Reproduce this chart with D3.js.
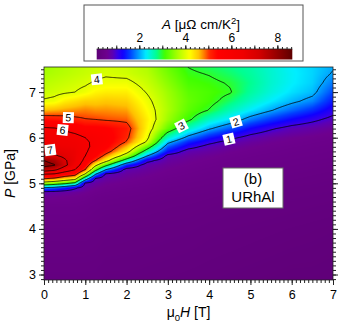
<!DOCTYPE html>
<html><head><meta charset="utf-8">
<script src="https://cdn.jsdelivr.net/npm/d3@7"></script>
<style>
body{margin:0;background:#fff;}
svg{display:block;font-family:"Liberation Sans",Arial,Helvetica,sans-serif;}
</style>
</head><body>
<svg id="chart" width="342" height="327"></svg>
<script>
// ---------- DATA ----------
// Field grid: magnetic field H (T) columns, pressure P (GPa) rows
const fieldH = [0,0.25,0.5,0.75,1,1.25,1.5,2,2.5,3,3.5,4,4.5,5,5.5,6,6.5,7];
const fieldP = [2.9,4.0,4.5,4.7,4.8,4.9,5.0,5.1,5.2,5.3,5.4,5.5,5.6,5.7,5.8,5.9,6.0,6.2,6.4,6.6,6.8,7.0,7.2,7.4,7.6];
// A (μΩ cm/K²) along fieldP, one array per H column
const aH0_00 = [0.3,0.4,0.5,0.65,0.8,1.9,3.6,5.0,6.0,7.5,8.3,8.0,7.0,6.8,6.6,6.5,6.4,6.1,5.3,4.6,4.05,3.85,3.75,3.65,3.6];
const aH0_25 = [0.3,0.4,0.5,0.62,0.78,1.8,3.4,4.85,5.9,7.2,8.05,7.7,7.1,6.8,6.6,6.5,6.4,6.05,5.25,4.65,4.1,3.9,3.8,3.7,3.65];
const aH0_50 = [0.3,0.4,0.5,0.6,0.72,1.5,3.15,4.5,5.5,6.5,7.2,7.1,6.85,6.7,6.55,6.45,6.35,5.9,5.2,4.7,4.3,3.95,3.85,3.75,3.7];
const aH0_75 = [0.3,0.4,0.5,0.58,0.68,1.1,2.8,4.25,5.25,6.0,6.45,6.6,6.6,6.6,6.5,6.4,6.25,5.7,5.1,4.75,4.4,4.0,3.9,3.8,3.75];
const aH1_00 = [0.3,0.4,0.48,0.55,0.62,0.72,0.9,2.4,3.9,5.0,5.5,5.8,6.0,6.1,6.15,6.1,6.0,5.5,5.02,4.8,4.5,4.1,3.95,3.85,3.8];
const aH1_25 = [0.3,0.38,0.45,0.5,0.55,0.62,0.72,0.92,2.0,3.25,4.15,5.0,5.45,5.65,5.8,5.85,5.8,5.5,5.0,4.75,4.5,4.25,4.05,3.9,3.85];
const aH1_50 = [0.28,0.36,0.43,0.48,0.52,0.57,0.63,0.72,0.9,2.0,3.2,4.25,4.8,5.25,5.5,5.6,5.6,5.45,4.95,4.75,4.55,4.3,4.1,3.95,3.9];
const aH2_00 = [0.28,0.35,0.42,0.46,0.49,0.53,0.58,0.63,0.7,0.82,1.5,2.65,3.65,4.25,4.6,4.95,5.1,5.2,4.9,4.7,4.5,4.3,4.1,3.9,3.85];
const aH2_50 = [0.27,0.34,0.4,0.44,0.47,0.5,0.54,0.58,0.63,0.69,0.78,1.15,2.0,2.7,3.3,3.9,4.1,4.25,4.3,4.2,4.1,3.97,3.85,3.75,3.68];
const aH3_00 = [0.26,0.33,0.38,0.41,0.43,0.46,0.49,0.52,0.56,0.6,0.65,0.72,0.85,1.35,1.7,2.1,2.55,3.3,3.6,3.68,3.65,3.6,3.5,3.4,3.3];
const aH3_50 = [0.25,0.32,0.37,0.4,0.42,0.44,0.46,0.49,0.52,0.55,0.59,0.63,0.7,0.82,1.15,1.45,1.85,2.55,3.08,3.25,3.3,3.25,3.15,3.06,2.97];
const aH4_00 = [0.24,0.3,0.35,0.38,0.4,0.42,0.44,0.46,0.48,0.51,0.54,0.58,0.63,0.72,0.85,1.1,1.4,2.05,2.55,2.98,3.12,3.15,3.08,2.98,2.85];
const aH4_50 = [0.23,0.29,0.33,0.36,0.38,0.4,0.42,0.44,0.46,0.48,0.5,0.53,0.57,0.62,0.7,0.85,1.1,1.7,2.25,2.6,2.85,3.03,2.97,2.85,2.75];
const aH5_00 = [0.22,0.28,0.32,0.34,0.36,0.38,0.4,0.42,0.44,0.46,0.48,0.5,0.53,0.57,0.62,0.7,0.85,1.3,1.85,2.3,2.55,2.7,2.75,2.7,2.65];
const aH5_50 = [0.21,0.27,0.31,0.33,0.34,0.36,0.38,0.4,0.42,0.44,0.46,0.48,0.5,0.53,0.57,0.62,0.7,1.05,1.55,2.02,2.3,2.45,2.5,2.5,2.48];
const aH6_00 = [0.2,0.26,0.3,0.32,0.33,0.34,0.36,0.38,0.4,0.42,0.44,0.46,0.48,0.5,0.53,0.57,0.62,0.85,1.3,1.75,2.08,2.25,2.32,2.33,2.3];
const aH6_50 = [0.2,0.25,0.29,0.31,0.32,0.33,0.35,0.36,0.38,0.4,0.42,0.44,0.46,0.48,0.5,0.53,0.57,0.75,1.1,1.5,1.88,2.1,2.18,2.2,2.2];
const aH7_00 = [0.19,0.24,0.28,0.3,0.31,0.32,0.33,0.35,0.36,0.38,0.4,0.42,0.44,0.46,0.48,0.5,0.53,0.65,0.88,1.15,1.4,1.62,1.82,1.97,2.05];

const contourLevels = [1,2,3,4,5,6,7,8];
// contour labels: [text, H, P, rotation]
const contourLabels = [["1",4.48,5.97,-13],["2",4.65,6.35,-17],["3",3.33,6.26,-27],["4",1.28,7.28,-6],["5",0.59,6.44,2],["6",0.45,6.17,6],["7",0.15,5.73,-8]];

const xTicks = [0,1,2,3,4,5,6,7];
const yTicks = [3,4,5,6,7];
const cbTicks = [2,4,6,8];
const cbDomain = [0.15, 8.65];

// colour map (IGOR-like rainbow)
const cmapV = [0,0.3,0.6,0.85,1.05,1.3,1.6,1.95,2.3,2.75,3.1,3.7,4.2,4.6,4.85,5.05,5.4,6.5,7.2,8.0,8.7];
const cmapC = ["#58006c","#640080","#6e008e","#5c00b4","#3800e8","#1000ff","#0040ff","#0098ff","#00eeff","#00ff90","#40ff00","#b0ff00","#ffff00","#ffc000","#ff7000","#ff2800","#ff0000","#f00000","#d40000","#940000","#5a0000"];

// ---------- SETUP ----------
const columns = [aH0_00,aH0_25,aH0_50,aH0_75,aH1_00,aH1_25,aH1_50,aH2_00,aH2_50,aH3_00,aH3_50,aH4_00,aH4_50,aH5_00,aH5_50,aH6_00,aH6_50,aH7_00];
const svg = d3.select("#chart");
const L = 44, R = 333, T = 67, B = 280;
const x = d3.scaleLinear().domain([0,7]).range([L,R]);
const y = d3.scaleLinear().domain([2.88,7.55]).range([B,T]);
const color = d3.scaleLinear().domain(cmapV).range(cmapC).interpolate(d3.interpolateRgb).clamp(true);

function valueAt(h, p){
  h = Math.max(fieldH[0], Math.min(fieldH[fieldH.length-1], h));
  p = Math.max(fieldP[0], Math.min(fieldP[fieldP.length-1], p));
  let i = Math.min(Math.max(d3.bisectRight(fieldH,h)-1,0), fieldH.length-2);
  let j = Math.min(Math.max(d3.bisectRight(fieldP,p)-1,0), fieldP.length-2);
  const tx = (h-fieldH[i])/(fieldH[i+1]-fieldH[i]);
  const ty = (p-fieldP[j])/(fieldP[j+1]-fieldP[j]);
  const c0 = columns[i], c1 = columns[i+1];
  return c0[j]*(1-tx)*(1-ty) + c1[j]*tx*(1-ty) + c0[j+1]*(1-tx)*ty + c1[j+1]*tx*ty;
}

// ---------- HEATMAP ----------
const W = R-L, Hh = B-T;
const canvas = document.createElement("canvas");
canvas.width = W; canvas.height = Hh;
const ctx = canvas.getContext("2d");
const img = ctx.createImageData(W, Hh);
for (let py=0; py<Hh; py++){
  const p = y.invert(T+py+0.5);
  for (let px=0; px<W; px++){
    const h = x.invert(L+px+0.5);
    const c = d3.rgb(color(valueAt(h,p)));
    const k = (py*W+px)*4;
    img.data[k]=c.r; img.data[k+1]=c.g; img.data[k+2]=c.b; img.data[k+3]=255;
  }
}
ctx.putImageData(img,0,0);
svg.append("image").attr("x",L).attr("y",T).attr("width",W).attr("height",Hh)
  .attr("preserveAspectRatio","none").attr("href",canvas.toDataURL());

// ---------- CONTOURS ----------
svg.append("defs").append("clipPath").attr("id","plotclip")
  .append("rect").attr("x",L).attr("y",T).attr("width",W).attr("height",Hh);
const h0=-0.2, dh=0.02, nx=371, p0=2.7, dp=0.02, ny=253;
const vals = new Float64Array(nx*ny);
for (let j=0;j<ny;j++) for (let i=0;i<nx;i++) vals[i+j*nx] = valueAt(h0+i*dh, p0+j*dp);
const conts = d3.contours().size([nx,ny]).thresholds(contourLevels)(vals);
const proj = d3.geoTransform({point(cx,cy){ this.stream.point(x(h0+(cx-0.5)*dh), y(p0+(cy-0.5)*dp)); }});
const path = d3.geoPath(proj);
svg.append("g").attr("clip-path","url(#plotclip)")
  .selectAll("path").data(conts).join("path")
  .attr("d",path).attr("fill","none").attr("stroke","#000").attr("stroke-width",0.8);

// contour labels
const lab = svg.append("g").selectAll("g").data(contourLabels).join("g")
  .attr("transform",d=>`translate(${x(d[1])},${y(d[2])}) rotate(${d[3]})`);
lab.append("rect").attr("x",-5.5).attr("y",-5.5).attr("width",11).attr("height",11).attr("fill","#fff");
lab.append("text").attr("text-anchor","middle").attr("dy","0.36em").attr("font-size",10.5).text(d=>d[0]);

// ---------- FRAME & AXES ----------
svg.append("rect").attr("x",L).attr("y",T).attr("width",W).attr("height",Hh)
  .attr("fill","none").attr("stroke","#222").attr("stroke-width",0.8);
const minorX = d3.range(0,7.001,0.1).map(v=>+v.toFixed(2));
const minorY = d3.range(2.9,7.55,0.1).map(v=>+v.toFixed(2));
function styleAxis(g){ g.select(".domain").remove(); g.selectAll("line").attr("stroke","#222"); g.selectAll("text").attr("fill","#000").attr("font-size",12.5).attr("font-family","'Liberation Sans',Arial,sans-serif"); }
svg.append("g").attr("transform",`translate(0,${B})`).call(d3.axisBottom(x).tickValues(minorX).tickSize(3).tickFormat("")).call(styleAxis);
svg.append("g").attr("transform",`translate(0,${B})`).call(d3.axisBottom(x).tickValues(xTicks).tickSize(5).tickPadding(5).tickFormat(d3.format("d"))).call(styleAxis);
svg.append("g").attr("transform",`translate(${L},0)`).call(d3.axisLeft(y).tickValues(minorY).tickSize(3).tickFormat("")).call(styleAxis);
svg.append("g").attr("transform",`translate(${L},0)`).call(d3.axisLeft(y).tickValues(yTicks).tickSize(5).tickPadding(3).tickFormat(d3.format("d"))).call(styleAxis);
svg.append("g").attr("transform",`translate(${R},0)`).call(d3.axisRight(y).tickValues(minorY).tickSize(3).tickFormat("")).call(styleAxis);
svg.append("g").attr("transform",`translate(${R},0)`).call(d3.axisRight(y).tickValues(yTicks).tickSize(5).tickFormat("")).call(styleAxis);

// axis titles
const xt = svg.append("text").attr("x",(L+R)/2).attr("y",317).attr("text-anchor","middle").attr("font-size",14);
xt.append("tspan").text("μ");
xt.append("tspan").attr("dy",4).attr("font-size",9.5).text("0");
xt.append("tspan").attr("dy",-4).attr("font-style","italic").text("H");
xt.append("tspan").text(" [T]");
const yt = svg.append("text").attr("transform",`translate(15,${(T+B)/2}) rotate(-90)`).attr("text-anchor","middle").attr("font-size",14);
yt.append("tspan").attr("font-style","italic").text("P");
yt.append("tspan").text(" [GPa]");

// ---------- COLORBAR ----------
svg.append("rect").attr("x",84).attr("y",5).attr("width",219).attr("height",56)
  .attr("fill","#fff").attr("stroke","#555").attr("stroke-width",1);
const cx = d3.scaleLinear().domain(cbDomain).range([96.7,292.3]);
const grad = svg.select("defs").append("linearGradient").attr("id","cbgrad");
d3.range(0,101).forEach(k=>{
  const v = cbDomain[0] + (cbDomain[1]-cbDomain[0])*k/100;
  grad.append("stop").attr("offset",k+"%").attr("stop-color",color(v));
});
svg.append("rect").attr("x",cx(cbDomain[0])).attr("y",49).attr("width",cx(cbDomain[1])-cx(cbDomain[0])).attr("height",10.5).attr("fill","url(#cbgrad)");
const cbMinor = d3.range(0.2,8.61,0.2).map(v=>+v.toFixed(2));
const cbInt = d3.range(1,9);
svg.append("g").attr("transform","translate(0,49)").call(d3.axisTop(cx).tickValues(cbMinor).tickSize(2).tickFormat("")).call(styleAxis);
svg.append("g").attr("transform","translate(0,49)").call(d3.axisTop(cx).tickValues(cbInt).tickSize(3.5).tickFormat("")).call(styleAxis);
svg.append("g").attr("transform","translate(0,49)").call(d3.axisTop(cx).tickValues(cbTicks).tickSize(3.5).tickPadding(3.5).tickFormat(d3.format("d"))).call(styleAxis)
  .selectAll("text").attr("font-size",12);
svg.append("line").attr("x1",cx(cbDomain[0])).attr("x2",cx(cbDomain[1])).attr("y1",49).attr("y2",49).attr("stroke","#222").attr("stroke-width",0.8);
const ct = svg.append("text").attr("x",201).attr("y",29).attr("text-anchor","middle").attr("font-size",13.5);
ct.append("tspan").attr("font-style","italic").text("A");
ct.append("tspan").text(" [μΩ cm/K");
ct.append("tspan").attr("dy",-5).attr("font-size",9.5).text("2");
ct.append("tspan").attr("dy",5).text("]");

// ---------- INSET LABEL ----------
svg.append("rect").attr("x",223).attr("y",168).attr("width",60).attr("height",40)
  .attr("fill","#fff").attr("stroke","#666").attr("stroke-width",1);
svg.append("text").attr("x",253).attr("y",184).attr("text-anchor","middle").attr("font-size",15).text("(b)");
svg.append("text").attr("x",253).attr("y",201.5).attr("text-anchor","middle").attr("font-size",15).text("URhAl");
</script>
</body></html>
